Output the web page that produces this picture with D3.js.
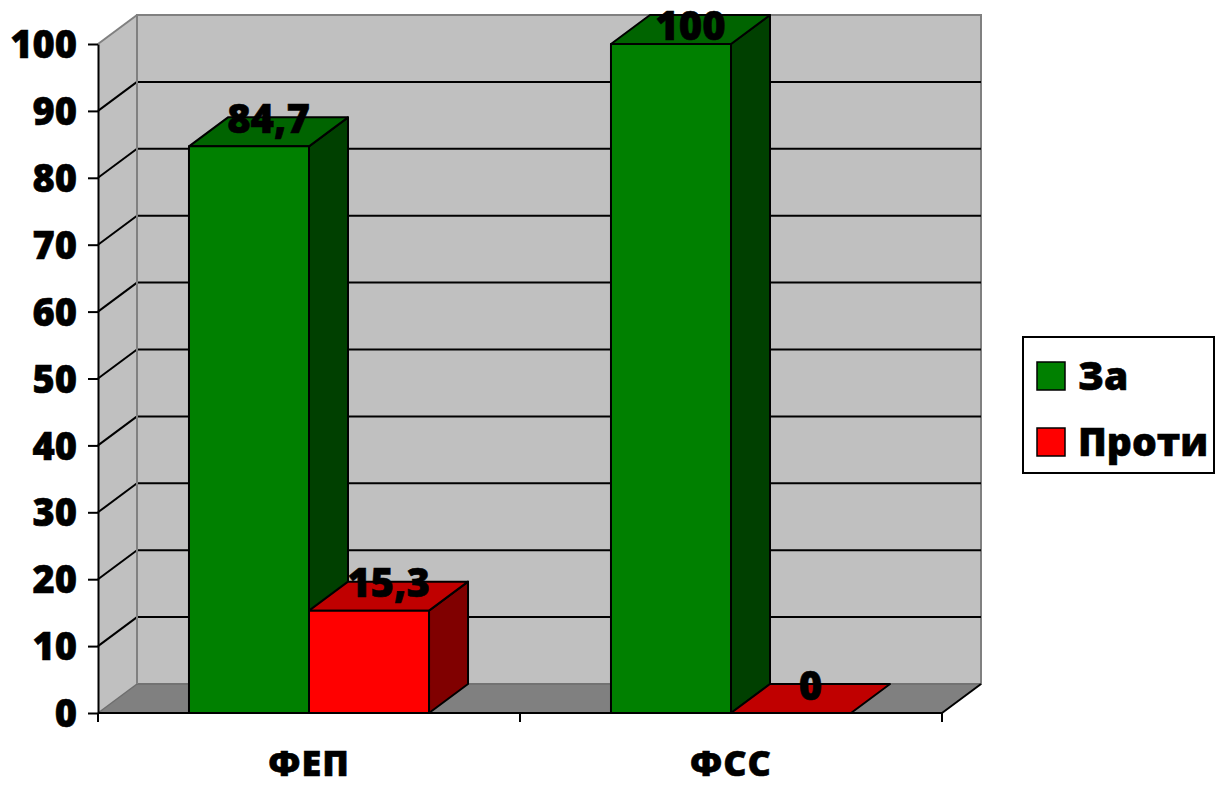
<!DOCTYPE html>
<html>
<head>
<meta charset="utf-8">
<script src="https://cdn.jsdelivr.net/npm/d3@7"></script>
<style>
  html, body { margin: 0; padding: 0; background: #ffffff; }
  svg { display: block; }
  text {
    font-family: "Open Sans", "Liberation Sans", sans-serif; font-weight: 800; fill: #000;
    stroke: #000; stroke-width: 0.6px; paint-order: stroke;
  }
</style>
</head>
<body>
<svg id="chart" width="1225" height="787"></svg>
<script>
// Survey results per faculty, percent
const categories = ["ФЕП", "ФСС"];
const seriesNames = ["За", "Проти"];
const forValues = [84.7, 100];
const againstValues = [15.3, 0];
const yTicks = [0, 10, 20, 30, 40, 50, 60, 70, 80, 90, 100];

const seriesColors = {
  "За":    { front: "#008000", top: "#006400", side: "#004000" },
  "Проти": { front: "#ff0000", top: "#c00000", side: "#800000" }
};

const svg = d3.select("#chart");

// Plot frame: front plane and depth offset of the 3D box
const plotLeft = 98, plotRight = 942, plotBottom = 713, plotTop = 44;
const dx = 39, dy = -29;

const y = d3.scaleLinear().domain([0, 100]).range([plotBottom, plotTop]);
const x = d3.scaleBand().domain(categories).range([plotLeft, plotRight]).paddingInner(0).paddingOuter(0);
const xs = d3.scaleBand().domain(seriesNames).range([0, x.bandwidth()]).paddingInner(0).paddingOuter(0.758);

const locale = d3.formatLocale({ decimal: ",", thousands: " ", grouping: [3], currency: ["", ""] });
const fmt = v => locale.format("~g")(v);

const rows = categories.map((c, i) => ({ category: c, values: [
  { series: "За", value: forValues[i] },
  { series: "Проти", value: againstValues[i] }
]}));

const g = svg.append("g");

// Side wall (left)
g.append("path")
  .attr("d", `M${plotLeft},${plotBottom} L${plotLeft},${y(100)} L${plotLeft + dx},${y(100) + dy} L${plotLeft + dx},${plotBottom + dy} Z`)
  .attr("fill", "#c0c0c0").attr("stroke", "none");

// Back wall
g.append("rect")
  .attr("x", plotLeft + dx).attr("y", y(100) + dy)
  .attr("width", plotRight - plotLeft).attr("height", y(0) - y(100))
  .attr("fill", "#c0c0c0").attr("stroke", "#808080").attr("stroke-width", 2);

// Floor
g.append("path")
  .attr("d", `M${plotLeft},${plotBottom} L${plotRight},${plotBottom} L${plotRight + dx},${plotBottom + dy} L${plotLeft + dx},${plotBottom + dy} Z`)
  .attr("fill", "#808080").attr("stroke", "none");
g.append("line")
  .attr("x1", plotLeft + dx).attr("x2", plotRight + dx).attr("y1", plotBottom + dy).attr("y2", plotBottom + dy)
  .attr("stroke", "#6e6e6e").attr("stroke-width", 1.5);
g.append("line")
  .attr("x1", plotRight).attr("x2", plotRight + dx).attr("y1", plotBottom).attr("y2", plotBottom + dy)
  .attr("stroke", "#000").attr("stroke-width", 2);
g.append("line")
  .attr("x1", plotLeft).attr("x2", plotLeft + dx).attr("y1", plotBottom).attr("y2", plotBottom + dy)
  .attr("stroke", "#6e6e6e").attr("stroke-width", 1.5);

// Gridlines on the back and side walls
const inner = yTicks.filter(t => t > 0 && t < 100);
g.selectAll(".grid-back").data(inner).join("line")
  .attr("x1", plotLeft + dx).attr("x2", plotRight + dx)
  .attr("y1", d => y(d) + dy).attr("y2", d => y(d) + dy)
  .attr("stroke", "#000").attr("stroke-width", 2);
g.selectAll(".grid-side").data(inner).join("line")
  .attr("x1", plotLeft).attr("x2", plotLeft + dx)
  .attr("y1", d => y(d)).attr("y2", d => y(d) + dy)
  .attr("stroke", "#000").attr("stroke-width", 2);
g.append("line")
  .attr("x1", plotLeft).attr("x2", plotLeft + dx).attr("y1", y(100)).attr("y2", y(100) + dy)
  .attr("stroke", "#808080").attr("stroke-width", 2);
g.append("line")
  .attr("x1", plotLeft + dx).attr("x2", plotLeft + dx).attr("y1", y(100) + dy).attr("y2", plotBottom + dy)
  .attr("stroke", "#808080").attr("stroke-width", 2);

// 3D columns
const bars = g.append("g");
rows.forEach(row => {
  row.values.forEach(d => {
    const x0 = x(row.category) + xs(d.series);
    const x1 = x0 + xs.bandwidth();
    const yt = y(d.value);
    const col = seriesColors[d.series];
    const b = bars.append("g").attr("stroke", "#000").attr("stroke-width", 2).attr("stroke-linejoin", "round");
    if (yt < plotBottom) {
      b.append("path")
        .attr("d", `M${x1},${plotBottom} L${x1},${yt} L${x1 + dx},${yt + dy} L${x1 + dx},${plotBottom + dy} Z`)
        .attr("fill", col.side);
    }
    b.append("path")
      .attr("d", `M${x0},${yt} L${x1},${yt} L${x1 + dx},${yt + dy} L${x0 + dx},${yt + dy} Z`)
      .attr("fill", col.top);
    if (yt < plotBottom) {
      b.append("rect")
        .attr("x", x0).attr("y", yt).attr("width", x1 - x0).attr("height", plotBottom - yt)
        .attr("fill", col.front);
    }
    // value label on the top face, kept inside the drawing area
    bars.append("text")
      .attr("x", (x0 + x1) / 2 + dx / 2)
      .attr("y", Math.max(yt + dy / 2 + 1, 40))
      .attr("text-anchor", "middle")
      .attr("font-size", 40)
      .text(fmt(d.value));
  });
});

// Y axis
const yAxis = d3.axisLeft(y).tickValues(yTicks).tickSize(10).tickSizeOuter(0).tickPadding(11).tickFormat(d => d);
const ya = svg.append("g").attr("transform", `translate(${plotLeft},0)`).call(yAxis);
ya.select(".domain").attr("stroke", "#000").attr("stroke-width", 2);
ya.selectAll(".tick line").attr("stroke", "#000").attr("stroke-width", 2);
ya.selectAll(".tick text")
  .attr("font-family", "'Open Sans', 'Liberation Sans', sans-serif")
  .attr("font-weight", 800).attr("font-size", 38).attr("fill", "#000")
  .attr("dy", "0.36em");

// X axis: baseline, category boundary ticks, and labels
svg.append("line")
  .attr("x1", plotLeft).attr("x2", plotRight).attr("y1", plotBottom).attr("y2", plotBottom)
  .attr("stroke", "#000").attr("stroke-width", 2);
const bounds = categories.map(c => x(c)).concat([plotRight]);
svg.selectAll(".xtick").data(bounds).join("line")
  .attr("x1", d => d).attr("x2", d => d).attr("y1", plotBottom).attr("y2", plotBottom + 9)
  .attr("stroke", "#000").attr("stroke-width", 2);
svg.selectAll(".xlabel").data(categories).join("text")
  .attr("x", d => x(d) + x.bandwidth() / 2)
  .attr("y", 776)
  .attr("text-anchor", "middle")
  .attr("font-size", 36)
  .attr("letter-spacing", 1)
  .text(d => d);

// Legend
const lg = svg.append("g");
lg.append("rect").attr("x", 1023).attr("y", 337).attr("width", 191).attr("height", 136)
  .attr("fill", "#fff").attr("stroke", "#000").attr("stroke-width", 2);
seriesNames.forEach((s, i) => {
  const cy = 376 + i * 66;
  lg.append("rect").attr("x", 1037).attr("y", cy - 14).attr("width", 28).attr("height", 28)
    .attr("fill", seriesColors[s].front).attr("stroke", "#000").attr("stroke-width", 1.5);
  lg.append("text").attr("x", 1078).attr("y", cy + 14).attr("font-size", 39).text(s);
});
</script>
</body>
</html>
